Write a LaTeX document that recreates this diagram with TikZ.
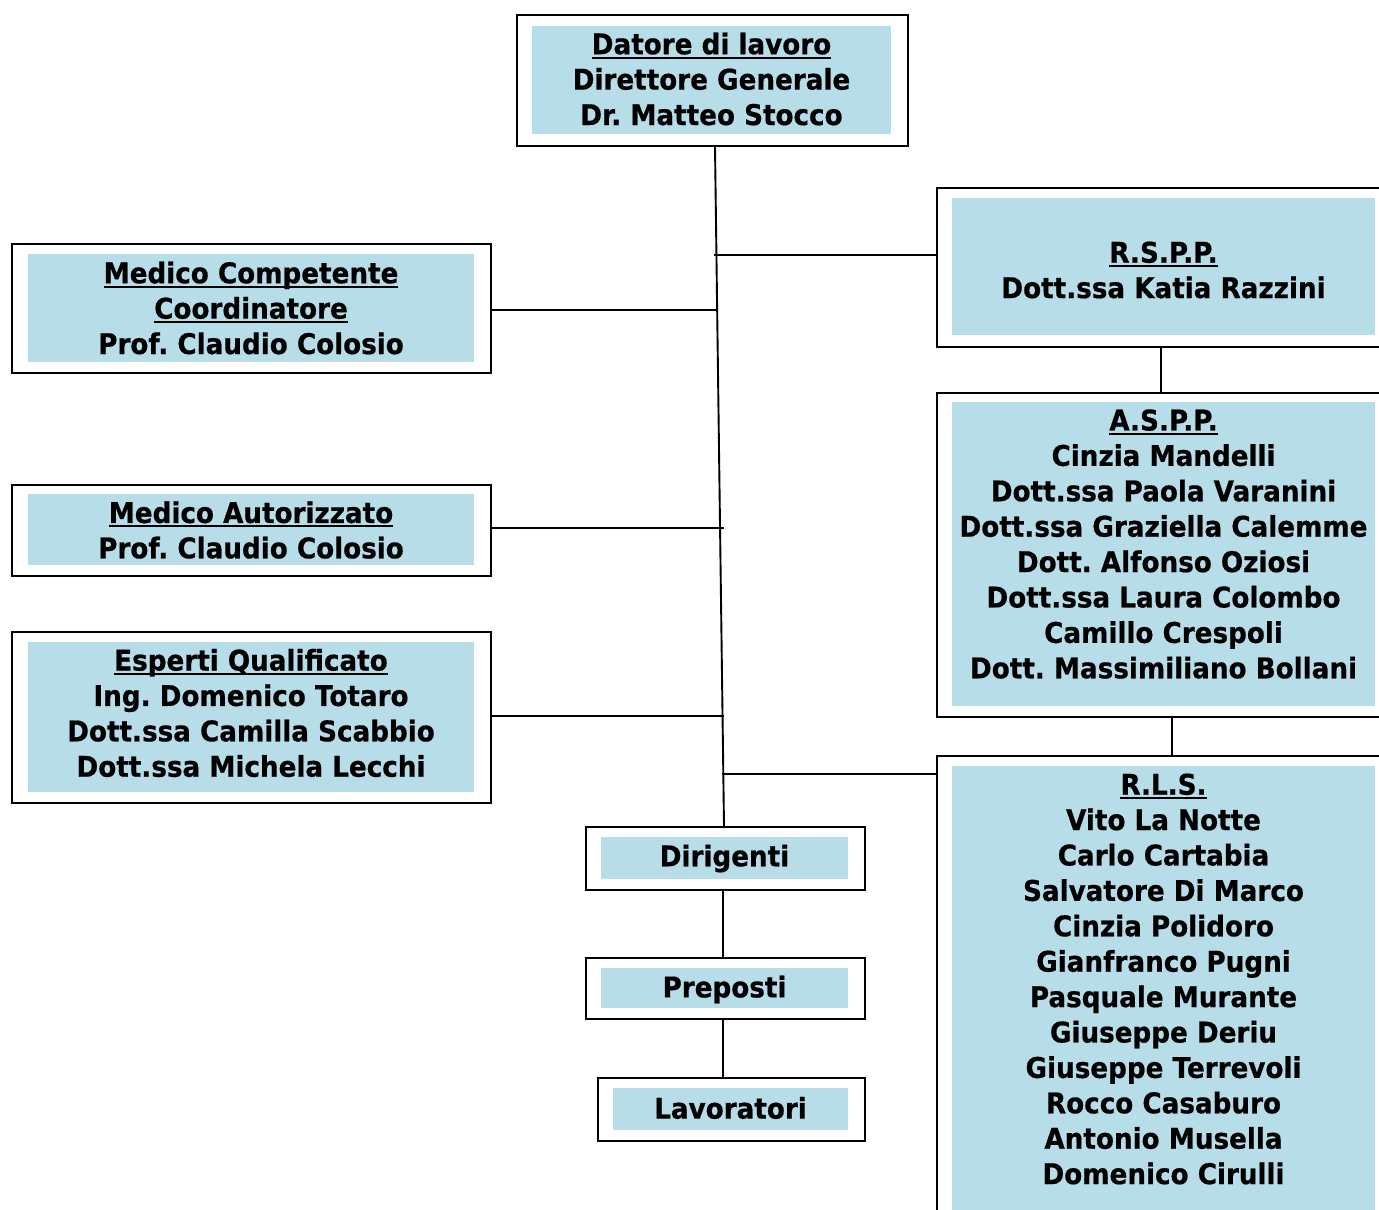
\documentclass[tikz,border=0pt]{standalone}
\usepackage{fontspec}
\setmainfont{DejaVu Sans}[FakeStretch=0.92, BoldFeatures={FakeStretch=0.92,FakeBold=0.6}]
\frenchspacing
\definecolor{lb}{HTML}{B6DDE8}
\newcommand\orgfont{\fontsize{28.5}{35.4}\selectfont\bfseries}
\newcommand\ulin[1]{\setbox0\hbox{#1}\rlap{\rule[-4.5pt]{\wd0}{2pt}}\box0}
\tikzset{
  outerbox/.style={draw, line width=2pt, inner sep=0, anchor=north west},
  innerbox/.style={fill=lb, inner sep=0, anchor=north west},
  txt/.style={font=\orgfont, align=center, inner sep=0},
  conn/.style={line width=1.9pt}
}
\begin{document}
\begin{tikzpicture}[x=1pt,y=-1pt]
\useasboundingbox (0,0) rectangle (1379,1210);
\clip (0,0) rectangle (1379,1210);
% top
\node[outerbox, minimum width=391, minimum height=131] (top) at (516,14) {};
\node[innerbox, minimum width=359, minimum height=108] (topi) at (532,26) {};
\node[txt] (topt) at (711.5,79) {\ulin{Datore di lavoro}\\Direttore Generale\\Dr. Matteo Stocco};
% RSPP
\node[outerbox, minimum width=464, minimum height=159] (rspp) at (936,187) {};
\node[innerbox, minimum width=423, minimum height=137] (rsppi) at (952,198) {};
\node[txt] (rsppt) at (1163.5,270) {\ulin{R.S.P.P.}\\Dott.ssa Katia Razzini};
% Medico competente
\node[outerbox, minimum width=479, minimum height=129] (mc) at (11,243) {};
\node[innerbox, minimum width=446, minimum height=108] (mci) at (28,254) {};
\node[txt] (mct) at (251,308) {\ulin{Medico Competente}\\\ulin{Coordinatore}\\Prof. Claudio Colosio};
% ASPP
\node[outerbox, minimum width=464, minimum height=324] (aspp) at (936,392) {};
\node[innerbox, minimum width=423, minimum height=304] (asppi) at (952,402) {};
\node[txt] (asppt) at (1163.5,544) {\ulin{A.S.P.P.}\\Cinzia Mandelli\\Dott.ssa Paola Varanini\\Dott.ssa Graziella Calemme\\Dott. Alfonso Oziosi\\Dott.ssa Laura Colombo\\Camillo Crespoli\\Dott. Massimiliano Bollani};
% Medico autorizzato
\node[outerbox, minimum width=479, minimum height=91] (ma) at (11,484) {};
\node[innerbox, minimum width=446, minimum height=71] (mai) at (28,494) {};
\node[txt] (mat) at (251,530) {\ulin{Medico Autorizzato}\\Prof. Claudio Colosio};
% Esperti
\node[outerbox, minimum width=479, minimum height=171] (eq) at (11,631) {};
\node[innerbox, minimum width=446, minimum height=150] (eqi) at (28,642) {};
\node[txt] (eqt) at (251,713) {\ulin{Esperti Qualificato}\\Ing. Domenico Totaro\\Dott.ssa Camilla Scabbio\\Dott.ssa Michela Lecchi};
% RLS
\node[outerbox, minimum width=464, minimum height=480] (rls) at (936,755) {};
\node[innerbox, minimum width=423, minimum height=460] (rlsi) at (952,766) {};
\node[txt] (rlst) at (1163.5,979) {\ulin{R.L.S.}\\Vito La Notte\\Carlo Cartabia\\Salvatore Di Marco\\Cinzia Polidoro\\Gianfranco Pugni\\Pasquale Murante\\Giuseppe Deriu\\Giuseppe Terrevoli\\Rocco Casaburo\\Antonio Musella\\Domenico Cirulli};
% Dirigenti
\node[outerbox, minimum width=279, minimum height=63] (dir) at (585,826) {};
\node[innerbox, minimum width=247, minimum height=42] (diri) at (601,837) {};
\node[txt] (dirt) at (724.5,858.5) {Dirigenti};
% Preposti
\node[outerbox, minimum width=279, minimum height=61] (prep) at (585,957) {};
\node[innerbox, minimum width=247, minimum height=40] (prepi) at (601,968) {};
\node[txt] (prept) at (724.5,989.5) {Preposti};
% Lavoratori
\node[outerbox, minimum width=267, minimum height=63] (lav) at (597,1077) {};
\node[innerbox, minimum width=235, minimum height=42] (lavi) at (613,1088) {};
\node[txt] (lavt) at (730.5,1108) {Lavoratori};
% junctions on trunk
\coordinate (j0) at (714,255);
\coordinate (j1) at (716,310);
\coordinate (j2) at (724,528);
\coordinate (j3) at (724,716);
\coordinate (j4) at (722,774);
\coordinate (a1) at (1161,0);
\coordinate (a2) at (1172,0);
% connectors
\draw[conn] ([xshift=2.5pt]top.south) -- ([xshift=-1.5pt]dir.north);
\draw[conn] (j0) -- (j0 -| rspp.west);
\draw[conn] (j1 -| mc.east) -- (j1);
\draw[conn] (j2 -| ma.east) -- (j2);
\draw[conn] (j3 -| eq.east) -- (j3);
\draw[conn] (j4) -- (j4 -| rls.west);
\draw[conn] (rspp.south -| a1) -- (aspp.north -| a1);
\draw[conn] (aspp.south -| a2) -- (rls.north -| a2);
\draw[conn] (dir.south -| 723,0) -- (prep.north -| 723,0);
\draw[conn] (prep.south -| 723,0) -- (lav.north -| 723,0);
\end{tikzpicture}
\end{document}
